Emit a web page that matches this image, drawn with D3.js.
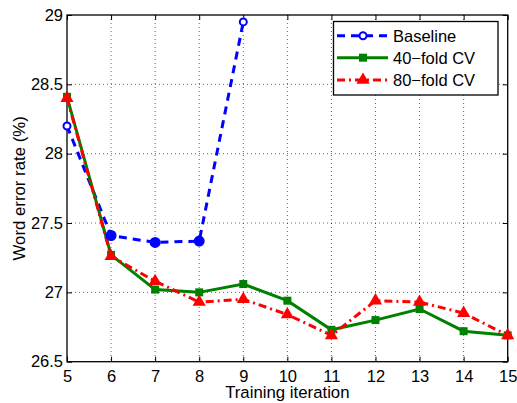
<!DOCTYPE html>
<html><head><meta charset="utf-8">
<script src="https://cdn.jsdelivr.net/npm/d3@7"></script>
<style>body{margin:0;background:#fff}svg{display:block}text{font-family:"Liberation Sans",Arial,Helvetica,sans-serif;fill:#000}</style>
</head><body><svg id="c" width="517" height="403"></svg>
<script>
const iterations = [5,6,7,8,9,10,11,12,13,14,15];
const baseline = [28.2,27.41,27.36,27.37,28.95];
const fold40 = [28.41,27.27,27.02,27.0,27.06,26.94,26.73,26.8,26.88,26.72,26.69];
const fold80 = [28.4,27.26,27.08,26.93,26.95,26.84,26.69,26.94,26.93,26.85,26.69];
const xTicks = [5,6,7,8,9,10,11,12,13,14,15];
const yTicks = [26.5,27,27.5,28,28.5,29];
const seriesNames = ["Baseline","40\u2212fold CV","80\u2212fold CV"];

const FS = 16.5;
const svg = d3.select("#c");
const L=67, R=507.7, T=15, B=361.7;
const x = d3.scaleLinear().domain([5,15]).range([L,R]);
const y = d3.scaleLinear().domain([26.5,29]).range([B,T]);

// grid
const g = svg.append("g");
g.selectAll(".gx").data(xTicks.slice(1,-1)).join("line")
 .attr("x1",d=>x(d)).attr("x2",d=>x(d)).attr("y1",T).attr("y2",B)
 .attr("stroke","#000").attr("stroke-width",1).attr("stroke-dasharray","1,3").attr("opacity",0.6);
g.selectAll(".gy").data(yTicks.slice(1,-1)).join("line")
 .attr("y1",d=>y(d)).attr("y2",d=>y(d)).attr("x1",L).attr("x2",R)
 .attr("stroke","#000").attr("stroke-width",1).attr("stroke-dasharray","1,3").attr("opacity",0.6);

// axes
const ax = d3.axisBottom(x).tickValues(xTicks).tickSize(-5).tickPadding(10).tickFormat(d3.format("d"));
const ay = d3.axisLeft(y).tickValues(yTicks).tickSize(-5).tickPadding(4).tickFormat(d=>String(d));
const gx = svg.append("g").attr("transform",`translate(0,${B})`).call(ax);
const gy = svg.append("g").attr("transform",`translate(${L},0)`).call(ay);
const gxt = svg.append("g").attr("transform",`translate(0,${T})`).call(d3.axisTop(x).tickValues(xTicks).tickSize(-5).tickFormat(""));
const gyr = svg.append("g").attr("transform",`translate(${R},0)`).call(d3.axisRight(y).tickValues(yTicks).tickSize(-5).tickFormat(""));
[gx,gy,gxt,gyr].forEach(a=>{
  a.select(".domain").remove();
  a.selectAll("line").attr("stroke","#000");
  a.selectAll("text").attr("font-size",FS).style("font-family","'Liberation Sans',Arial,sans-serif");
});
gx.selectAll("text").attr("dy","0.72em").attr("y",8);
svg.append("rect").attr("x",L).attr("y",T).attr("width",R-L).attr("height",B-T)
 .attr("fill","none").attr("stroke","#000").attr("stroke-width",1.3);

// lines
const line = d3.line().x((d,i)=>x(iterations[i])).y(d=>y(d));
svg.append("path").datum(baseline).attr("d",line).attr("fill","none")
 .attr("stroke","#0000ff").attr("stroke-width",3).attr("stroke-dasharray","8,6");
svg.append("path").datum(fold40).attr("d",line).attr("fill","none")
 .attr("stroke","#008000").attr("stroke-width",3);
svg.append("path").datum(fold80).attr("d",line).attr("fill","none")
 .attr("stroke","#ff0000").attr("stroke-width",3).attr("stroke-dasharray","8,4,2,4");

// markers
svg.selectAll(".bm").data(baseline).join("circle")
 .attr("cx",(d,i)=>x(iterations[i])).attr("cy",d=>y(d))
 .attr("r",(d,i)=>(i===0||i===baseline.length-1)?3.5:4.5)
 .attr("fill",(d,i)=>(i===0||i===baseline.length-1)?"#fff":"#0000ff")
 .attr("stroke","#0000ff").attr("stroke-width",2);
svg.selectAll(".gm").data(fold40).join("rect")
 .attr("x",(d,i)=>x(iterations[i])-4).attr("y",d=>y(d)-4).attr("width",8).attr("height",8)
 .attr("fill","#008000");
const tri = d3.symbol().type(d3.symbolTriangle).size(75);
svg.selectAll(".rm").data(fold80).join("path")
 .attr("d",tri).attr("transform",(d,i)=>`translate(${x(iterations[i])},${y(d)})`)
 .attr("fill","#ff0000");

// axis labels
svg.append("text").attr("x",(L+R)/2).attr("y",398).attr("text-anchor","middle").attr("font-size",16.8).text("Training iteration");
svg.append("text").attr("transform",`translate(24.5,${(T+B)/2}) rotate(-90)`).attr("text-anchor","middle").attr("font-size",16.8).text("Word error rate (%)");

// legend
const lg = svg.append("g");
lg.append("rect").attr("x",333.5).attr("y",21.5).attr("width",164.5).attr("height",73.5)
 .attr("fill","#fff").attr("stroke","#000").attr("stroke-width",1.3);
const rows=[35.7,57.7,80];
const lx1=337, lx2=388, lm=363;
lg.append("line").attr("x1",lx1).attr("x2",lx2).attr("y1",rows[0]).attr("y2",rows[0])
 .attr("stroke","#0000ff").attr("stroke-width",3).attr("stroke-dasharray","8,6");
lg.append("circle").attr("cx",lm).attr("cy",rows[0]).attr("r",3.5).attr("fill","#fff").attr("stroke","#0000ff").attr("stroke-width",2);
lg.append("line").attr("x1",lx1).attr("x2",lx2).attr("y1",rows[1]).attr("y2",rows[1])
 .attr("stroke","#008000").attr("stroke-width",3);
lg.append("rect").attr("x",lm-4).attr("y",rows[1]-4).attr("width",8).attr("height",8).attr("fill","#008000");
lg.append("line").attr("x1",lx1).attr("x2",lx2).attr("y1",rows[2]).attr("y2",rows[2])
 .attr("stroke","#ff0000").attr("stroke-width",3).attr("stroke-dasharray","8,4,2,4");
lg.append("path").attr("d",tri).attr("transform",`translate(${lm},${rows[2]})`).attr("fill","#ff0000");
lg.selectAll(".lt").data(seriesNames).join("text")
 .attr("x",393).attr("y",(d,i)=>rows[i]).attr("dy","0.36em").attr("font-size",FS).text(d=>d);
</script></body></html>
